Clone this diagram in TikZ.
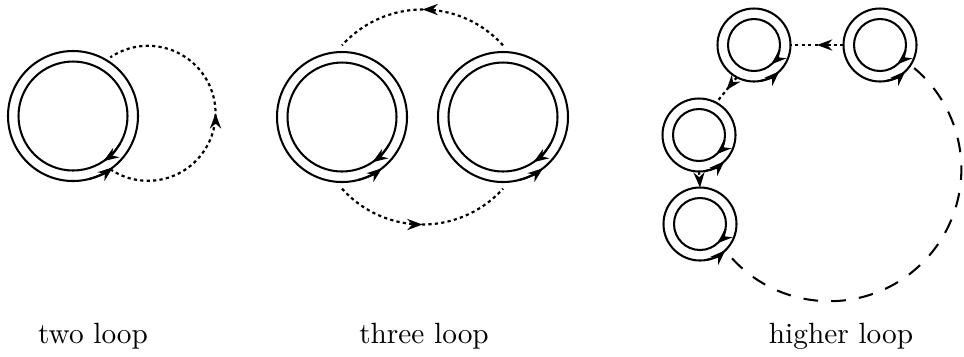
\documentclass[tikz,border=0pt]{standalone}
\usetikzlibrary{arrows.meta,decorations.markings}
\tikzset{
  ring/.style={
    circle,
    draw=black,
    line width=0.7pt,
    minimum size=#1,
    inner sep=0pt,
    outer sep=0pt
  },
  spin/.style={draw=black, line width=0.7pt, -{Stealth[length=5.2pt, width=3.8pt]}},
  dotline/.style={draw=black, line width=0.75pt, dash pattern=on 1.1pt off 1.1pt},
  longdash/.style={draw=black, line width=0.7pt, dash pattern=on 5pt off 4.5pt},
  midarrow/.style={
    postaction={decorate},
    decoration={markings, mark=at position 0.5 with {\arrow{Stealth[length=5.2pt, width=3.8pt]}}}
  },
  caption/.style={font=\normalsize, anchor=base}
}
\begin{document}
\begin{tikzpicture}
  \useasboundingbox (0,0) rectangle (11.568,-4.272);

  % two loop
  \node[ring=1.56cm] (two) at (0.876,-1.392) {};
  \node[ring=1.308cm] (twoin) at (0.876,-1.392) {};
  \draw[dotline, midarrow] (two.-55) arc (-124:124:0.81);

  % three loop
  \node[ring=1.56cm] (threeL) at (4.104,-1.404) {};
  \node[ring=1.308cm] (threeLin) at (4.104,-1.404) {};
  \node[ring=1.56cm] (threeR) at (6.036,-1.404) {};
  \node[ring=1.308cm] (threeRin) at (6.036,-1.404) {};
  \draw[dotline, midarrow] ([yshift=0.08cm]threeR.north) arc (42:138:1.30);
  \draw[dotline, midarrow] ([yshift=-0.08cm]threeL.south) arc (-138:-42:1.30);

  \foreach \o/\i in {two/twoin, threeL/threeLin, threeR/threeRin} {
    \draw[spin] (\i.-30) arc (-30:-56:0.654);
    \draw[spin] (\o.-76) arc (-76:-52:0.78);
  }

  % higher loop
  \node[ring=0.876cm] (hA) at (9.048,-0.54) {};
  \node[ring=0.624cm] (hAin) at (9.048,-0.54) {};
  \node[ring=0.876cm] (hB) at (10.56,-0.54) {};
  \node[ring=0.624cm] (hBin) at (10.56,-0.54) {};
  \node[ring=0.876cm] (hC) at (8.388,-1.62) {};
  \node[ring=0.624cm] (hCin) at (8.388,-1.62) {};
  \node[ring=0.876cm] (hD) at (8.4,-2.688) {};
  \node[ring=0.624cm] (hDin) at (8.4,-2.688) {};

  \foreach \o/\i in {hA/hAin, hB/hBin, hC/hCin, hD/hDin} {
    \draw[spin] (\i.-12) arc (-12:-48:0.312);
    \draw[spin] (\o.-80) arc (-80:-46:0.438);
  }

  \draw[dotline, midarrow] (hB.west) -- (hA.east);
  \draw[dotline, midarrow] (hA.-118) -- (hC.62);
  \draw[dotline, -{Stealth[length=5.2pt, width=3.8pt]}] (hC.south) -- (hD.north);
  \draw[longdash] ([shift={(-47:0.126)}]hD.-47) arc (-137.5:52.4:1.584);

  % captions
  \node[caption] (lbltwo) at (1.116,-4.116) {two loop};
  \node[caption] (lblthree) at (5.088,-4.116) {three loop};
  \node[caption] (lblhigher) at (10.092,-4.116) {higher loop};
\end{tikzpicture}
\end{document}
